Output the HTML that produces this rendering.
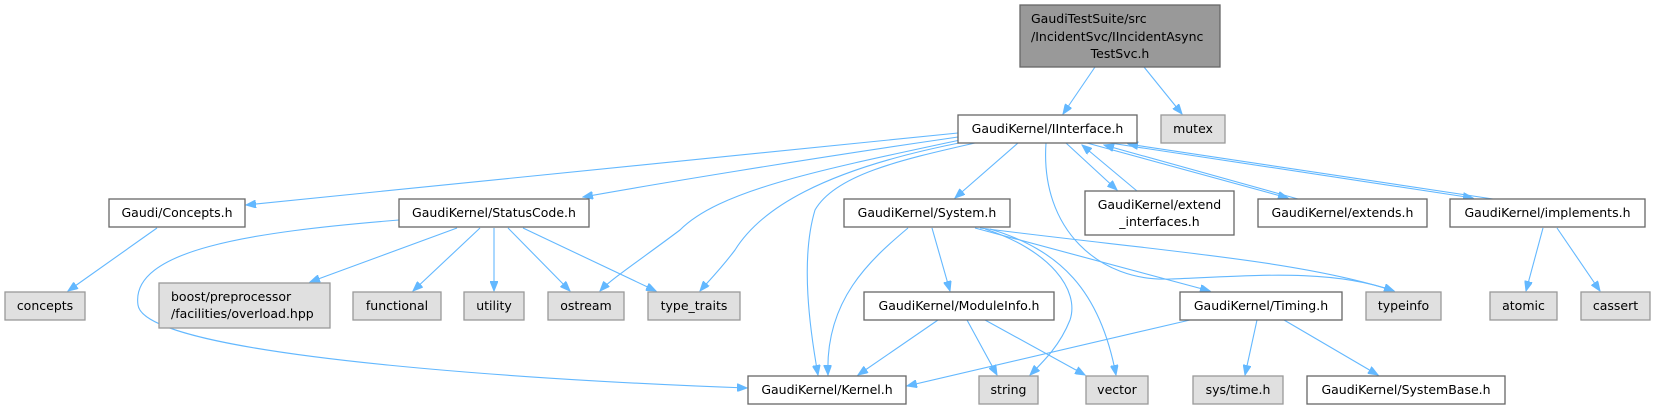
<!DOCTYPE html>
<html><head><meta charset="utf-8"><style>
html,body{margin:0;padding:0;background:#fff;}
svg{display:block;}
text{font-family:"DejaVu Sans","Liberation Sans",sans-serif;font-size:12.5px;fill:#000;}
.w{fill:#fff;stroke:#666;stroke-width:1.3;}
.g{fill:#e0e0e0;stroke:#999;stroke-width:1.3;}
.r{fill:#999;stroke:#666;stroke-width:1.3;}
.e{fill:none;stroke:#63b8ff;stroke-width:1.1;}
</style></head><body>
<svg width="1655" height="409" viewBox="0 0 1655 409" xmlns="http://www.w3.org/2000/svg">
<defs>
<marker id="a" markerWidth="11" markerHeight="8" refX="10" refY="4" orient="auto" markerUnits="userSpaceOnUse">
<path d="M0,0 L10,4 L0,8 Z" fill="#63b8ff" stroke="#63b8ff"/>
</marker>
</defs>
<g marker-end="url(#a)">
<path class="e" d="M1095,67 L1063,114"/>
<path class="e" d="M1144,67 L1182,114"/>
<path class="e" d="M958,133 L246,205"/>
<path class="e" d="M958,137 C800,160 650,185 583,197"/>
<path class="e" d="M960,140 C820,170 720,190 680,230 C640,260 610,280 600,291"/>
<path class="e" d="M964,142 C820,170 760,210 735,250 C720,270 705,285 700,291"/>
<path class="e" d="M975,143 C900,160 835,175 815,210 C800,260 810,330 818,375"/>
<path class="e" d="M1018,143 L955,198"/>
<path class="e" d="M1046,143 C1040,230 1100,282 1170,279 C1250,276 1330,268 1394,291"/>
<path class="e" d="M1066,143 L1117,190"/>
<path class="e" d="M1137,191 L1082,145"/>
<path class="e" d="M1087,143 L1288,198"/>
<path class="e" d="M1298,199 L1104,145"/>
<path class="e" d="M1110,143 L1473,198"/>
<path class="e" d="M1493,199 L1128,144"/>
<path class="e" d="M399,220 C250,232 130,250 138,305 C145,360 600,383 747,388"/>
<path class="e" d="M457,228 L310,282"/>
<path class="e" d="M480,228 L413,291"/>
<path class="e" d="M494,228 L494,291"/>
<path class="e" d="M508,228 L570,291"/>
<path class="e" d="M523,228 L656,291"/>
<path class="e" d="M157,228 L68,291"/>
<path class="e" d="M908,228 C870,260 825,300 828,375"/>
<path class="e" d="M932,228 L950,291"/>
<path class="e" d="M985,229 C1050,250 1080,290 1070,320 C1060,345 1045,360 1030,375"/>
<path class="e" d="M990,229 C1060,250 1100,290 1116,375"/>
<path class="e" d="M975,228 L1210,291"/>
<path class="e" d="M980,228 C1150,250 1300,260 1394,291"/>
<path class="e" d="M938,320 L858,375"/>
<path class="e" d="M967,320 L997,375"/>
<path class="e" d="M985,320 L1085,375"/>
<path class="e" d="M1190,320 L907,386"/>
<path class="e" d="M1257,320 L1245,375"/>
<path class="e" d="M1284,320 L1378,375"/>
<path class="e" d="M1543,228 L1526,291"/>
<path class="e" d="M1557,228 L1600,291"/>
</g>
<!-- nodes -->
<rect class="r" x="1020" y="5" width="200" height="62"/>
<text x="1131" y="23" text-anchor="end" style="text-anchor:start" transform="translate(-100,0)">GaudiTestSuite/src</text>
<text x="1031" y="41">/IncidentSvc/IIncidentAsync</text>
<text x="1120" y="58" text-anchor="middle">TestSvc.h</text>

<rect class="w" x="958" y="115" width="179" height="28"/><text x="1047.5" y="133" text-anchor="middle">GaudiKernel/IInterface.h</text>
<rect class="g" x="1161" y="115" width="64" height="28"/><text x="1193" y="133" text-anchor="middle">mutex</text>

<rect class="w" x="109" y="199" width="136" height="28"/><text x="177" y="217" text-anchor="middle">Gaudi/Concepts.h</text>
<rect class="w" x="399" y="199" width="190" height="28"/><text x="494" y="217" text-anchor="middle">GaudiKernel/StatusCode.h</text>
<rect class="w" x="844" y="199" width="166" height="28"/><text x="927" y="217" text-anchor="middle">GaudiKernel/System.h</text>
<rect class="w" x="1085" y="191" width="149" height="44"/><text x="1159.5" y="209" text-anchor="middle">GaudiKernel/extend</text><text x="1159.5" y="226" text-anchor="middle">_interfaces.h</text>
<rect class="w" x="1258" y="199" width="169" height="28"/><text x="1342.5" y="217" text-anchor="middle">GaudiKernel/extends.h</text>
<rect class="w" x="1450" y="199" width="195" height="28"/><text x="1547.5" y="217" text-anchor="middle">GaudiKernel/implements.h</text>

<rect class="g" x="5" y="292" width="80" height="28"/><text x="45" y="310" text-anchor="middle">concepts</text>
<rect class="g" x="159" y="283" width="171" height="45"/><text x="171" y="301">boost/preprocessor</text><text x="171" y="318">/facilities/overload.hpp</text>
<rect class="g" x="353" y="292" width="88" height="28"/><text x="397" y="310" text-anchor="middle">functional</text>
<rect class="g" x="464" y="292" width="60" height="28"/><text x="494" y="310" text-anchor="middle">utility</text>
<rect class="g" x="548" y="292" width="76" height="28"/><text x="586" y="310" text-anchor="middle">ostream</text>
<rect class="g" x="648" y="292" width="92" height="28"/><text x="694" y="310" text-anchor="middle">type_traits</text>
<rect class="w" x="864" y="292" width="190" height="28"/><text x="959" y="310" text-anchor="middle">GaudiKernel/ModuleInfo.h</text>
<rect class="w" x="1180" y="292" width="162" height="28"/><text x="1261" y="310" text-anchor="middle">GaudiKernel/Timing.h</text>
<rect class="g" x="1366" y="292" width="75" height="28"/><text x="1403.5" y="310" text-anchor="middle">typeinfo</text>
<rect class="g" x="1490" y="292" width="67" height="28"/><text x="1523.5" y="310" text-anchor="middle">atomic</text>
<rect class="g" x="1581" y="292" width="69" height="28"/><text x="1615.5" y="310" text-anchor="middle">cassert</text>

<rect class="w" x="748" y="376" width="158" height="28"/><text x="827" y="394" text-anchor="middle">GaudiKernel/Kernel.h</text>
<rect class="g" x="979" y="376" width="59" height="28"/><text x="1008.5" y="394" text-anchor="middle">string</text>
<rect class="g" x="1086" y="376" width="62" height="28"/><text x="1117" y="394" text-anchor="middle">vector</text>
<rect class="g" x="1193" y="376" width="90" height="28"/><text x="1238" y="394" text-anchor="middle">sys/time.h</text>
<rect class="w" x="1307" y="376" width="198" height="28"/><text x="1406" y="394" text-anchor="middle">GaudiKernel/SystemBase.h</text>
</svg>
</body></html>
